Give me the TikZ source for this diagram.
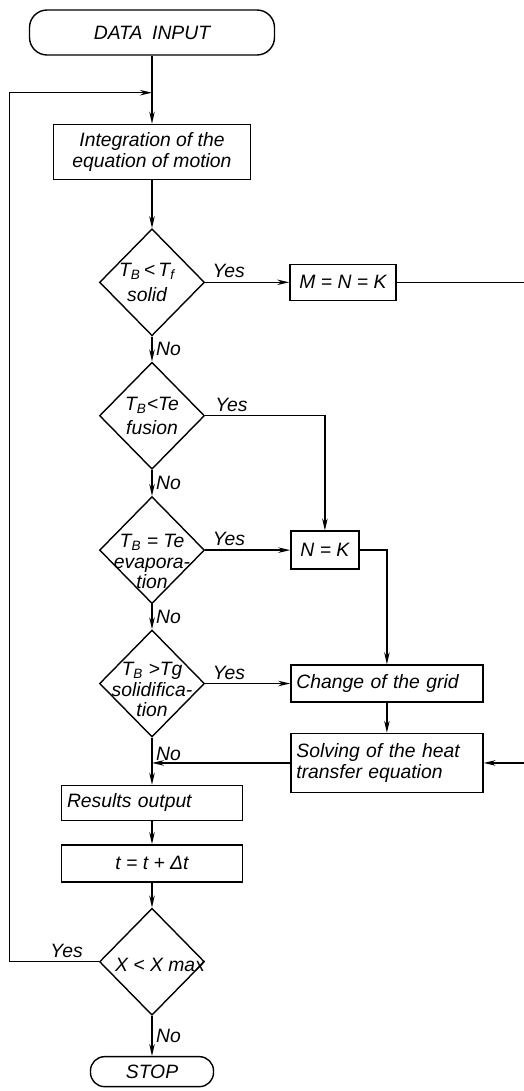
\documentclass[tikz,border=0pt]{standalone}
\usepackage{fontspec}
\setmainfont{Liberation Sans}
\usetikzlibrary{arrows.meta,positioning,shapes.geometric}
\tikzset{
  procbox/.style={
    draw=black,
    line width=0.8pt,
    align=center,
    inner sep=3pt,
    font=\itshape\fontsize{11}{12}\selectfont
  },
  termbox/.style={
    draw=black,
    line width=0.8pt,
    rounded corners=10pt,
    align=center,
    font=\itshape\fontsize{11}{12}\selectfont
  },
  decision/.style={
    diamond,
    draw=black,
    line width=0.8pt,
    minimum width=2.1cm,
    minimum height=2.14cm,
    inner sep=0pt
  },
  dtext/.style={
    align=center,
    inner sep=0pt,
    font=\itshape\fontsize{11}{11.5}\selectfont
  },
  lbl/.style={
    inner sep=2pt,
    font=\itshape\fontsize{11}{12}\selectfont
  },
  flowarrow/.style={
    -{Stealth[length=2.4mm,width=1.1mm]},
    line width=0.8pt
  },
  flowline/.style={
    line width=0.8pt
  }
}
\begin{document}
\begin{tikzpicture}[node distance=0.5cm]
  \useasboundingbox (0,0) rectangle (10.48,-21.82);
  % main column
  \node[termbox, minimum width=4.9cm, minimum height=0.9cm] (input) at (3.04,-0.65) {DATA\enspace INPUT};
  \node[procbox, minimum width=3.94cm, minimum height=1.1cm, below=1.36cm of input] (motion) {Integration of the\\equation of motion};
  \node[decision, below=0.96cm of motion] (solid) {};
  \node[decision, below=of solid] (fusion) {};
  \node[decision, below=0.52cm of fusion] (evap) {};
  \node[decision, below=of evap] (solidif) {};
  \node[procbox, text width=3.4cm, align=left, minimum height=0.7cm, below=0.94cm of solidif] (results) {Results output};
  \node[procbox, minimum width=3.62cm, minimum height=0.74cm, below=0.46cm of results] (tstep) {t = t + Δt};
  \node[decision, below=0.5cm of tstep] (xmax) {};
  \node[termbox, minimum width=2.46cm, minimum height=0.6cm, rounded corners=8pt, below=0.8cm of xmax] (stop) {STOP};
  % texts in the diamonds
  \node[dtext, xshift=-0.1cm] (solidtxt) at (solid) {T\textsubscript{B}\,<\,T\textsubscript{f}\\[3pt]solid};
  \node[dtext] (fusiontxt) at (fusion) {T\textsubscript{B}<Te\\[2pt]fusion};
  \node[dtext, yshift=-0.23cm] (evaptxt) at (evap) {T\textsubscript{B} = Te\\evapora-\\tion};
  \node[dtext, yshift=-0.12cm] (solidiftxt) at (solidif) {T\textsubscript{B} >Tg\\solidifica-\\tion};
  \node[dtext, xshift=0.16cm, yshift=-0.06cm] (xmaxtxt) at (xmax) {X < X max};
  % right column
  \node[procbox, minimum width=2.12cm, minimum height=0.72cm, right=1.68cm of solid] (mnk) {M = N = K};
  \node[procbox, minimum width=1.36cm, minimum height=0.76cm, right=1.7cm of evap] (nk) {N = K};
  \node[procbox, text width=3.62cm, align=left, inner xsep=0.11cm, minimum height=0.74cm, right=1.7cm of solidif] (grid) {Change of the grid};
  \node[procbox, text width=3.62cm, align=left, inner xsep=0.11cm, minimum height=1.18cm, below=0.6cm of grid] (heat) {Solving of the heat\\transfer equation};
  \coordinate[below=0.74cm of input] (join);
  \coordinate[left=1.79cm of xmax] (back);
  \coordinate[right=2.58cm of mnk] (redge);
  \draw[flowline] (input) -- (join);
  \draw[flowarrow] (join) -- (motion);
  \draw[flowarrow] (motion) -- (solid);
  \draw[flowarrow] (solid) -- node[lbl, right] {No} (fusion);
  \draw[flowarrow] (fusion) -- node[lbl, right] {No} (evap);
  \draw[flowarrow] (evap) -- node[lbl, right] {No} (solidif);
  \draw[flowarrow] (solidif) -- node[lbl, right, pos=0.35] {No} (results);
  \draw[flowarrow] (results) -- (tstep);
  \draw[flowarrow] (tstep) -- (xmax);
  \draw[flowarrow] (xmax) -- node[lbl, right] {No} (stop);
  \draw[flowarrow] (solid.east) -- node[lbl, above, pos=0.28] {Yes} (mnk);
  \draw[flowarrow] (fusion.east) -| node[lbl, above, pos=0.11] {Yes} (nk.north);
  \draw[flowarrow] (evap.east) -- node[lbl, above, pos=0.28] {Yes} (nk);
  \draw[flowarrow] (solidif.east) -- node[lbl, above, pos=0.28] {Yes} (grid);
  \draw[flowarrow] (nk.east) -| (grid.north);
  \draw[flowarrow] (grid) -- (heat);
  \draw[flowarrow] (heat.west) -- (heat.west -| solidif.south);
  \draw[flowarrow] (mnk.east) -- (redge) |- (heat.east);
  \draw[flowarrow] (xmax.west) -- node[lbl, above, pos=0.36] {Yes} (back) |- (join);
\end{tikzpicture}
\end{document}
